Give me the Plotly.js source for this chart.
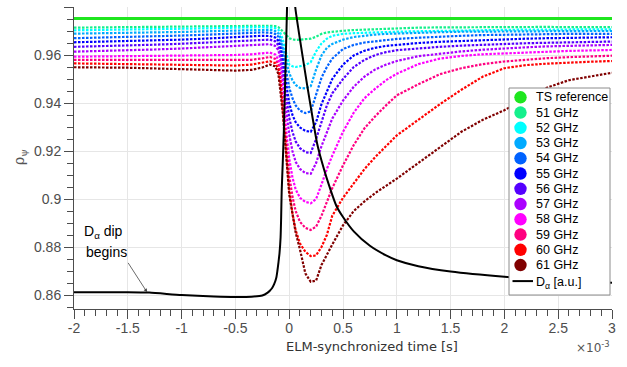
<!DOCTYPE html>
<html><head><meta charset="utf-8">
<script src="https://cdn.plot.ly/plotly-3.0.1.min.js"></script>
<style>html,body{margin:0;padding:0;background:#fff;} #chart{width:627px;height:367px;}</style>
</head><body><div id="chart"></div>
<script>
// ---- data (time in ms, values in rho_psi) ----
const time = [-2, -1.75, -1.5, -1.25, -1, -0.75, -0.5, -0.35, -0.25, -0.18,
  -0.13, -0.1, -0.08, -0.06, -0.04, -0.02, 0, 0.03, 0.06, 0.1,
  0.15, 0.2, 0.25, 0.3, 0.35, 0.4, 0.5, 0.6, 0.7, 0.8,
  0.9, 1.0, 1.2, 1.4, 1.6, 1.8, 2.0, 2.2, 2.4, 2.6, 2.8, 3.0];

const tsTime = [-2, 3];
const tsRef = [0.9752, 0.9752];

const f51 = [.9714,.9715,.9716,.9717,.9718,.9720,.9722,.9723,.9723,.9722,
  .9720,.9716,.9708,.9698,.9688,.9678,.9670,.9665,.9663,.9664,
  .9666,.9668,.9676,.9688,.9694,.9697,.9701,.9704,.9706,.9708,
  .9710,.9712,.9714,.9715,.9716,.9716,.9717,.9717,.9717,.9716,.9716,.9716];
const f52 = [.9703,.9704,.9706,.9707,.9709,.9711,.9714,.9716,.9716,.9715,
  .9712,.9705,.9690,.9665,.9630,.9590,.9560,.9553,.9550,.9553,
  .9558,.9570,.9615,.9648,.9668,.9680,.9688,.9691,.9693,.9695,
  .9696,.9697,.9699,.9701,.9703,.9704,.9705,.9706,.9706,.9707,.9707,.9707];
const f53 = [.9689,.9690,.9692,.9694,.9696,.9699,.9703,.9705,.9706,.9705,
  .9700,.9690,.9670,.9640,.9600,.9560,.9525,.9495,.9475,.9463,
  .9461,.9470,.9540,.9598,.9630,.9646,.9664,.9675,.9681,.9685,
  .9688,.9690,.9693,.9695,.9697,.9698,.9699,.9699,.9700,.9700,.9700,.9700];
const f54 = [.9670,.9672,.9675,.9678,.9681,.9685,.9690,.9693,.9694,.9693,
  .9688,.9676,.9650,.9610,.9560,.9510,.9465,.9420,.9390,.9368,
  .9358,.9365,.9440,.9505,.9550,.9585,.9625,.9642,.9652,.9658,
  .9663,.9667,.9672,.9677,.9680,.9683,.9685,.9686,.9687,.9688,.9688,.9688];
const f55 = [.9653,.9655,.9658,.9661,.9664,.9669,.9675,.9679,.9680,.9679,
  .9673,.9658,.9625,.9575,.9515,.9455,.9400,.9350,.9320,.9298,
  .9284,.9280,.9320,.9395,.9450,.9500,.9560,.9598,.9618,.9630,
  .9638,.9643,.9650,.9655,.9659,.9663,.9666,.9668,.9670,.9672,.9673,.9674];
const f56 = [.9634,.9636,.9639,.9643,.9647,.9652,.9659,.9663,.9665,.9664,
  .9657,.9640,.9600,.9540,.9470,.9400,.9340,.9280,.9240,.9212,
  .9195,.9192,.9250,.9320,.9390,.9440,.9500,.9550,.9580,.9600,
  .9612,.9620,.9628,.9634,.9639,.9643,.9646,.9649,.9651,.9653,.9655,.9656];
const f57 = [.9614,.9616,.9619,.9623,.9627,.9632,.9639,.9643,.9645,.9645,
  .9638,.9620,.9575,.9505,.9420,.9340,.9270,.9200,.9155,.9125,
  .9108,.9105,.9150,.9220,.9280,.9335,.9410,.9468,.9510,.9540,
  .9560,.9575,.9595,.9606,.9615,.9622,.9628,.9632,.9636,.9638,.9640,.9642];
const f58 = [.9593,.9594,.9595,.9596,.9597,.9598,.9600,.9603,.9607,.9610,
  .9602,.9580,.9530,.9450,.9350,.9250,.9170,.9090,.9040,.9005,
  .8988,.8982,.9000,.9060,.9125,.9180,.9280,.9360,.9420,.9460,
  .9495,.9522,.9562,.9585,.9596,.9603,.9607,.9611,.9614,.9617,.9619,.9621];
const f59 = [.9580,.9580,.9580,.9579,.9578,.9577,.9577,.9580,.9586,.9592,
  .9584,.9560,.9505,.9420,.9310,.9200,.9100,.9010,.8950,.8905,
  .8880,.8871,.8885,.8930,.8985,.9045,.9140,.9225,.9295,.9345,
  .9390,.9432,.9478,.9520,.9545,.9562,.9573,.9581,.9587,.9591,.9594,.9597];
const f60 = [.9565,.9564,.9563,.9561,.9559,.9557,.9556,.9560,.9567,.9574,
  .9566,.9540,.9480,.9390,.9270,.9150,.9040,.8940,.8870,.8815,
  .8780,.8762,.8765,.8800,.8850,.8930,.9005,.9065,.9125,.9175,
  .9220,.9265,.9330,.9395,.9455,.9510,.9545,.9558,.9564,.9569,.9572,.9575];
const f61 = [.9549,.9549,.9547,.9544,.9540,.9537,.9535,.9538,.9548,.9560,
  .9553,.9520,.9450,.9360,.9250,.9120,.9020,.8940,.8860,.8790,
  .8690,.8655,.8660,.8725,.8770,.8810,.8890,.8950,.8990,.9025,
  .9055,.9085,.9150,.9215,.9280,.9330,.9370,.9420,.9465,.9495,.9512,.9526];

const dTime = [-2, -1.5, -1.3, -1, -0.7, -0.5, -0.35, -0.25, -0.2, -0.18, -0.16, -0.14,
  -0.12, -0.11, -0.1, -0.09, -0.08, -0.075, -0.07, -0.06, -0.05, -0.04, -0.03, -0.02,
  0, 0.02, 0.04, 0.056, 0.1, 0.165, 0.2, 0.26, 0.3, 0.35, 0.44, 0.5, 0.6, 0.75,
  0.9, 1.0, 1.2, 1.5, 2.0, 2.5, 3.0];
const dAlpha = [.8612, .8612, .8610, .8600, .8594, .8592, .8593, .8598, .8610, .8618, .8628, .8645,
  .8672, .8700, .8735, .8775, .8840, .8920, .9030, .9150, .9280, .9450, .9620, .9800,
  1.02, 1.03, .992, .980, .9665, .948, .9385, .923, .916, .9085, .897, .8925, .8865, .8805,
  .8765, .8745, .8720, .8698, .8676, .8661, .8651];

const seriesNames = ['51 GHz','52 GHz','53 GHz','54 GHz','55 GHz','56 GHz','57 GHz','58 GHz','59 GHz','60 GHz','61 GHz'];
const seriesValues = [f51,f52,f53,f54,f55,f56,f57,f58,f59,f60,f61];
const tsName = 'TS reference';
const dName = 'D<sub>α</sub> [a.u.]';

const xTickVals = [-2,-1.5,-1,-0.5,0,0.5,1,1.5,2,2.5,3];
const xTickText = ['-2','-1.5','-1','-0.5','0','0.5','1','1.5','2','2.5','3'];
const yTickVals = [0.86,0.88,0.9,0.92,0.94,0.96,0.98];
const yTickText = ['0.86','0.88','0.9','0.92','0.94','0.96','0.98'];

// ---- styles ----
const seriesColors = ['#14f08c','#00ffff','#00aaff','#0062ff','#0000ff','#5500ff','#aa00ff','#ff00ff','#ff0080','#ff0000','#800000'];
const tsColor = '#1fe61f';

const W = 627, H = 367;
const M = {l: 74, r: 15, t: 7, b: 58};
const PW = W - M.l - M.r, PH = H - M.t - M.b;
const px = v => (v - M.l) / PW;
const py = v => (H - M.b - v) / PH;

const traces = [];
seriesValues.forEach((vals, i) => {
  traces.push({x: time, y: vals, mode: 'lines', name: seriesNames[i], showlegend: false,
    line: {color: seriesColors[i], width: 2.2, dash: '2.5px,1.5px'}, hoverinfo: 'skip'});
});
traces.unshift({x: tsTime, y: tsRef, mode: 'lines', name: tsName, showlegend: false,
  line: {color: tsColor, width: 3}});
traces.push({x: dTime, y: dAlpha, mode: 'lines', name: 'Dα [a.u.]', showlegend: false,
  line: {color: '#000', width: 2, shape: 'spline', smoothing: 0.6}});

const font = 'Liberation Sans, Arial, Helvetica, sans-serif';
const shapes = [];
const annotations = [];

// manual legend
shapes.push({type: 'rect', xref: 'paper', yref: 'paper', x0: px(509), x1: px(610), y0: py(295), y1: py(88),
  fillcolor: '#fff', line: {color: '#8c8c8c', width: 1}, layer: 'above'});
const legNames = [tsName].concat(seriesNames);
const legColors = [tsColor].concat(seriesColors);
const rowY = i => 97.3 + i * 15.25;
legNames.forEach((n, i) => {
  shapes.push({type: 'circle', xref: 'paper', yref: 'paper', xsizemode: 'pixel', ysizemode: 'pixel',
    xanchor: px(520.5), yanchor: py(rowY(i)), x0: -6.2, x1: 6.2, y0: -6.2, y1: 6.2,
    fillcolor: legColors[i], line: {width: 0}, layer: 'above'});
  annotations.push({xref: 'paper', yref: 'paper', x: px(534), y: py(rowY(i)), xanchor: 'left', yanchor: 'middle',
    text: n, showarrow: false, font: {family: font, size: 12.5, color: '#000'}});
});
const dRow = rowY(12) + 0.8;
shapes.push({type: 'line', xref: 'paper', yref: 'paper', x0: px(512.5), x1: px(533), y0: py(dRow), y1: py(dRow),
  line: {color: '#000', width: 2}, layer: 'above'});
annotations.push({xref: 'paper', yref: 'paper', x: px(534), y: py(dRow + 2), xanchor: 'left', yanchor: 'middle',
  text: dName, showarrow: false, font: {family: font, size: 12.5, color: '#000'}});

// D alpha annotation
annotations.push({xref: 'paper', yref: 'paper', x: px(103.5), y: py(232), xanchor: 'center', yanchor: 'middle',
  text: 'D<sub>α</sub> dip', showarrow: false, font: {family: font, size: 14, color: '#000'}});
annotations.push({xref: 'paper', yref: 'paper', x: px(106.5), y: py(252), xanchor: 'center', yanchor: 'middle',
  text: 'begins', showarrow: false, font: {family: font, size: 14, color: '#000'}});
annotations.push({xref: 'x', yref: 'y', x: -1.32, y: 0.8611, text: '', showarrow: true, ax: -20, ay: -31,
  arrowhead: 2, arrowsize: 0.9, arrowwidth: 0.8, arrowcolor: '#444', standoff: 0});

// axis titles
annotations.push({xref: 'paper', yref: 'paper', x: px(372), y: py(346), xanchor: 'center', yanchor: 'middle',
  text: 'ELM-synchronized time [s]', showarrow: false, font: {family: 'DejaVu Sans, sans-serif', size: 13, color: '#333'}});
annotations.push({xref: 'paper', yref: 'paper', x: px(612), y: py(347), xanchor: 'right', yanchor: 'middle',
  text: '×10<sup>-3</sup>', showarrow: false, font: {family: 'DejaVu Sans, sans-serif', size: 12, color: '#555'}});
annotations.push({xref: 'paper', yref: 'paper', x: px(20), y: py(157), xanchor: 'center', yanchor: 'middle', textangle: -90,
  text: 'ρ<sub>ψ</sub>', showarrow: false, font: {family: 'DejaVu Serif, serif', size: 14, color: '#555'}});

const axisCommon = {
  showline: true, linecolor: '#4d4d4d', linewidth: 1, mirror: false, zeroline: false,
  showgrid: true, gridcolor: '#e6e6e6', gridwidth: 1,
  ticks: 'outside', ticklen: 9, tickcolor: '#4d4d4d', tickwidth: 1,
  tickfont: {family: font, size: 14, color: '#4d4d4d'}, tickmode: 'array'
};

const layout = {
  width: W, height: H, margin: M, paper_bgcolor: '#fff', plot_bgcolor: '#fff',
  showlegend: false,
  xaxis: Object.assign({}, axisCommon, {range: [-2, 3], tickvals: xTickVals, ticktext: xTickText, ticklabelstandoff: -3,
    minor: {tickmode: 'linear', tick0: 0, dtick: 0.1, ticks: 'outside', ticklen: 6, tickcolor: '#4d4d4d', showgrid: false}}),
  yaxis: Object.assign({}, axisCommon, {range: [0.85417, 0.98], tickvals: yTickVals, ticktext: yTickText,
    minor: {tickmode: 'linear', tick0: 0, dtick: 0.005, ticks: 'outside', ticklen: 6, tickcolor: '#4d4d4d', showgrid: false}}),
  shapes: shapes, annotations: annotations
};

Plotly.newPlot('chart', traces, layout, {displayModeBar: false, staticPlot: true});
</script></body></html>
